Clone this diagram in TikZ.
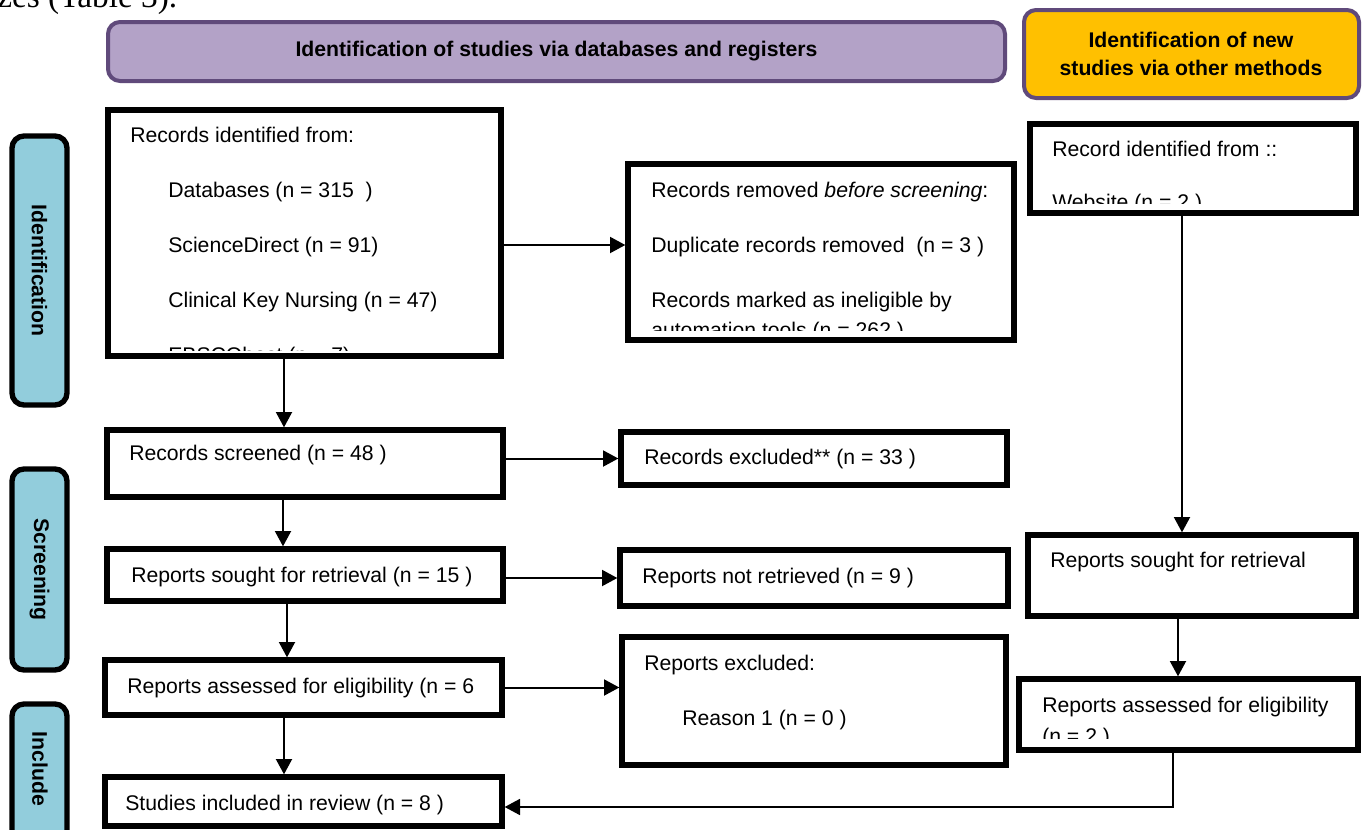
\documentclass[tikz,border=0pt]{standalone}
\usepackage{fontspec}
\setmainfont{Liberation Sans}
\newfontfamily\tnrfont{Liberation Serif}
\usetikzlibrary{arrows.meta,fit}
\definecolor{hdrpurple}{HTML}{B3A2C7}
\definecolor{hdrborder}{HTML}{604A7B}
\definecolor{hdrorange}{HTML}{FFC000}
\definecolor{sideblue}{HTML}{92CDDC}
\tikzset{
  box/.style={draw=black, line width=4pt, inner sep=0pt},
  hdrbox/.style={draw=hdrborder, line width=3pt, rounded corners=9pt, inner sep=0pt},
  sidebox/.style={draw=black, line width=4pt, fill=sideblue, rounded corners=9pt, inner sep=0pt},
  txt/.style={anchor=base west, inner sep=0pt, font=\fontsize{15.9}{19}\selectfont},
  hdrtxt/.style={inner sep=0pt, align=center, font=\fontsize{15.9}{20.5}\selectfont\bfseries},
  sidetxt/.style={inner sep=0pt, rotate=-90, font=\fontsize{15.9}{19}\selectfont\bfseries},
  arr/.style={line width=1.5pt, -{Triangle[length=11.5pt,width=12pt]}},
  conn/.style={line width=1.3pt}
}
\begin{document}
\begin{tikzpicture}[x=0.75pt,y=-0.75pt]
\clip (0,0) rectangle (1364,829);
\fill[white] (0,0) rectangle (1364,829);

% fragment of the page text above the diagram
\node[anchor=base west, inner sep=0pt, font=\tnrfont\fontsize{25}{28}\selectfont] (frag) at (-3,7) {zes (Table 3).};

% headers
\node[hdrbox, fill=hdrpurple, fit={(108,22)(1005,81)}] (h1) {};
\node[hdrtxt] (h1t) at (h1.center) {Identification of studies via databases and registers};
\node[hdrbox, fill=hdrorange, fit={(1024,10)(1359,98)}] (h2) {};
\node[hdrtxt] (h2t) at (1191,54) {Identification of new\\studies via other methods};

% side labels
\node[sidebox, fit={(12,136)(67,405)}] (s1) {};
\node[sidetxt] (s1t) at (s1.center) {Identification};
\node[sidebox, fit={(12,469)(67,670)}] (s2) {};
\node[sidetxt] (s2t) at (s2.center) {Screening};
\node[sidebox, fit={(12,704)(67,860)}] (s3) {};
\node[sidetxt] (s3t) at (40,769) {Include};

% texts
\begin{scope}
\clip (108,110) rectangle (500,350);
\node[txt] (t1) at (130,142) {Records identified from:};
\node[txt] (t2) at (168,197) {Databases (n = 315\ \ )};
\node[txt] (t3) at (168,252) {ScienceDirect (n = 91)};
\node[txt] (t4) at (168,307) {Clinical Key Nursing (n = 47)};
\node[txt] (t5) at (168,362) {EBSCOhost (n = 7)};
\end{scope}
\begin{scope}
\clip (628,164) rectangle (1014,330);
\node[txt] (t6) at (651,197) {Records removed \textit{before screening}:};
\node[txt] (t7) at (651,252) {Duplicate records removed\ \ (n = 3 )};
\node[txt] (t8) at (651,307) {Records marked as ineligible by};
\node[txt] (t9) at (651,337) {automation tools (n = 262 )};
\end{scope}
\begin{scope}
\clip (1030,124) rectangle (1356,203);
\node[txt] (t10) at (1052,156) {Record identified from ::};
\node[txt] (t11) at (1052,209) {Website (n = 2 )};
\end{scope}
\node[txt] (t12) at (129,460) {Records screened (n = 48 )};
\node[txt] (t13) at (644,464) {Records excluded** (n = 33 )};
\node[txt] (t14) at (131,582) {Reports sought for retrieval (n = 15 )};
\node[txt] (t15) at (642,583) {Reports not retrieved (n = 9 )};
\node[txt] (t16) at (1050,567) {Reports sought for retrieval};
\node[txt] (t17) at (127,693) {Reports assessed for eligibility (n = 6};
\node[txt] (t18) at (644,670) {Reports excluded:};
\node[txt] (t19) at (682,725) {Reason 1 (n = 0 )};
\begin{scope}
\clip (1019,679) rectangle (1358,738);
\node[txt] (t20) at (1042,712) {Reports assessed for eligibility};
\node[txt] (t21) at (1042,743) {(n = 2 )};
\end{scope}
\node[txt] (t22) at (125,810) {Studies included in review (n = 8 )};

% boxes
\node[box, fit={(108,110)(501,356)}] (ri) {};
\node[box, fit={(628,164)(1014,340)}] (rr) {};
\node[box, fit={(1030,124)(1356,213)}] (rid) {};
\node[box, fit={(107,430)(503,497)}] (rs) {};
\node[box, fit={(621,432)(1007,485)}] (rx) {};
\node[box, fit={(107,549)(503,601)}] (so) {};
\node[box, fit={(620,550)(1008,606)}] (nr) {};
\node[box, fit={(1028,535)(1356,616)}] (sor) {};
\node[box, fit={(105,660)(502,715)}] (al) {};
\node[box, fit={(622,637)(1006,765)}] (rex) {};
\node[box, fit={(1019,679)(1358,750)}] (ar) {};
\node[box, fit={(105,777)(502,826)}] (si) {};

% connector coordinates
\coordinate (x1) at (284,0);
\coordinate (x2) at (283,0);
\coordinate (x3) at (287,0);
\coordinate (x4) at (284,0);
\coordinate (y1) at (0,245);
\coordinate (xr1) at (1182,0);
\coordinate (xr2) at (1178,0);
\coordinate (xr3) at (1173,0);
\coordinate (yb) at (0,807);

% connectors
\draw[arr] (ri.south -| x1) -- (rs.north -| x1);
\draw[arr] (ri.east |- y1) -- (rr.west |- y1);
\draw[arr] (rs.east |- rx.west) -- (rx.west);
\draw[arr] (rs.south -| x2) -- (so.north -| x2);
\draw[arr] (so.east |- nr.west) -- (nr.west);
\draw[arr] (so.south -| x3) -- (al.north -| x3);
\draw[arr] (al.east) -- (al.east -| rex.west);
\draw[arr] (al.south -| x4) -- (si.north -| x4);
\draw[arr] (rid.south -| xr1) -- (sor.north -| xr1);
\draw[arr] (sor.south -| xr2) -- (ar.north -| xr2);
\draw[arr, line width=1.3pt] (ar.south -| xr3) -- (xr3 |- yb) -- (si.east |- yb);
\end{tikzpicture}
\end{document}
